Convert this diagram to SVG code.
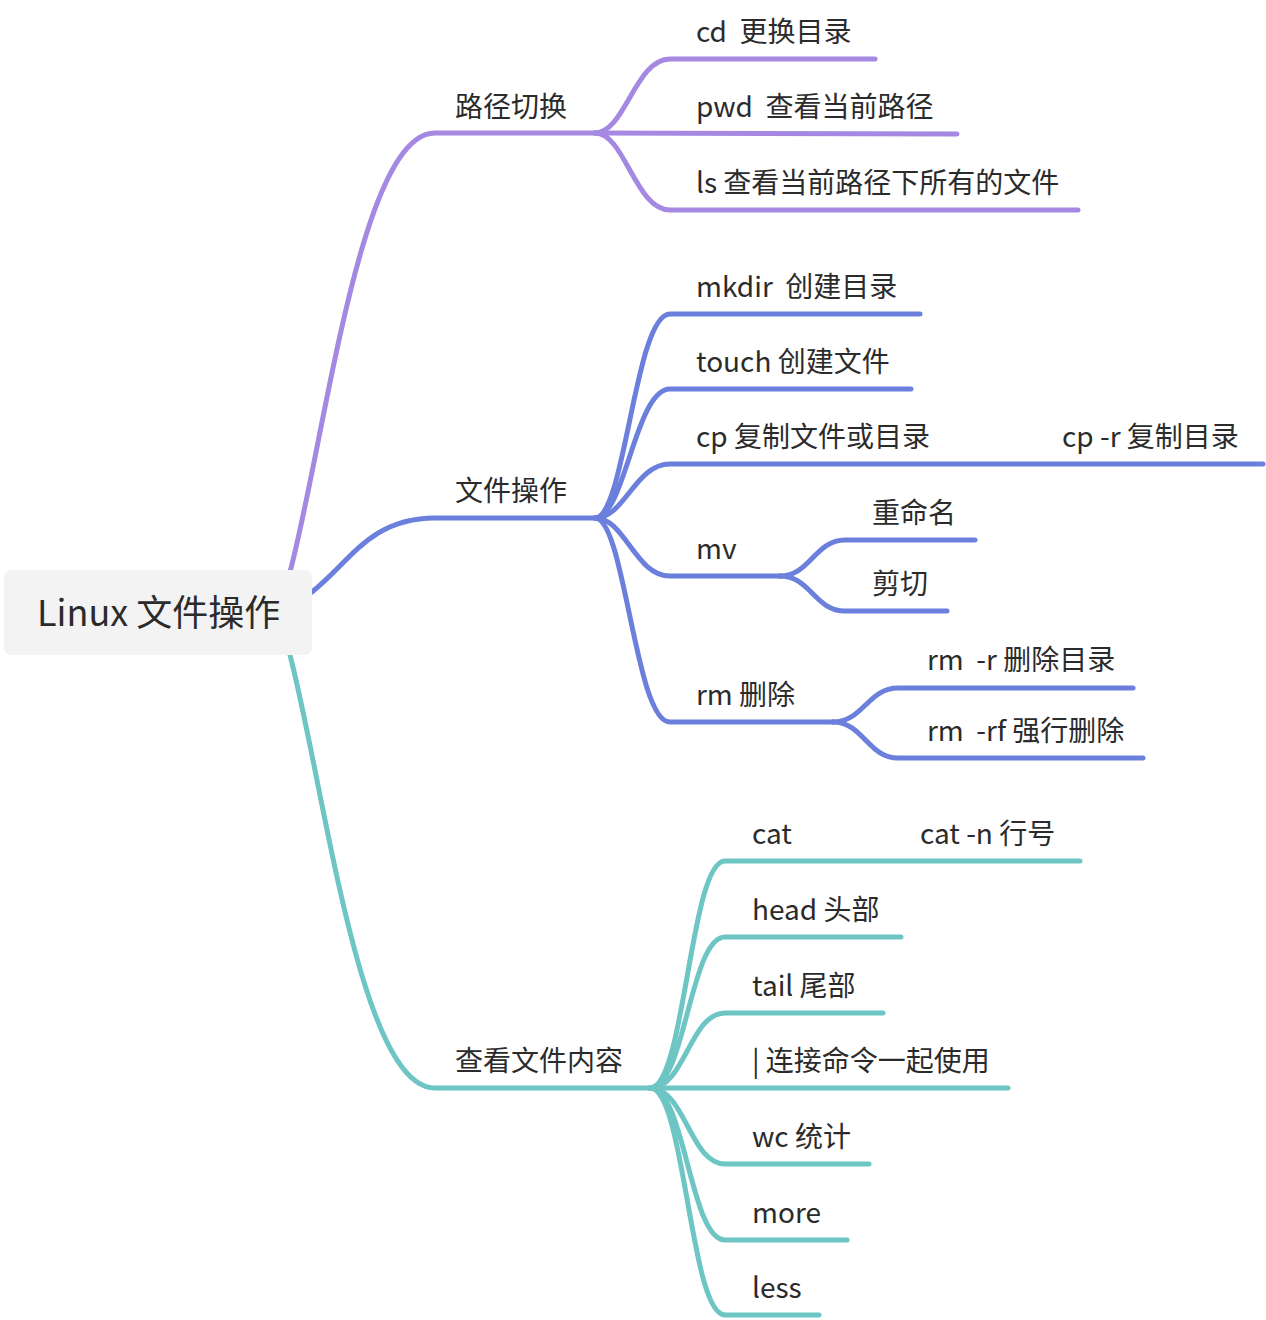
<svg xmlns="http://www.w3.org/2000/svg" width="1266" height="1320" viewBox="0 0 1266 1320">
<style>
text{font-family:"Noto Sans CJK SC","Noto Sans",sans-serif;fill:#2b2b2b;white-space:pre}
.t{font-size:28px}
.root{font-size:36px}
path{fill:none;stroke-width:5;stroke-linecap:round}
.p{stroke:#a588e2}
.b{stroke:#6b7fdc}
.g{stroke:#6dc5c4}
</style>
<rect width="1266" height="1320" fill="#ffffff"/>
<g id="connectors">
<path class="p" d="M290 572 C325 440 360 133 435 133 L595 133"/>
<path class="p" d="M595 133 C625 133 635 59 670 59 L875 59"/>
<path class="p" d="M595 133 L957 134"/>
<path class="p" d="M595 133 C625 133 635 210 670 210 L1078 210"/>
<path class="b" d="M312 592 C350 562 370 518 435 518 L595 518"/>
<path class="b" d="M595 518 C625 518 635 314 670 314 L920 314"/>
<path class="b" d="M595 518 C625 518 635 389 670 389 L911 389"/>
<path class="b" d="M595 518 C625 518 635 464 670 464 L1263 464"/>
<path class="b" d="M595 518 C625 518 635 576 670 576 L780 576"/>
<path class="b" d="M780 576 C810 576 815 540 845 540 L975 540"/>
<path class="b" d="M780 576 C810 576 815 611 845 611 L947 611"/>
<path class="b" d="M595 518 C625 518 635 722 670 722 L833 722"/>
<path class="b" d="M833 722 C863 722 868 688 898 688 L1133 688"/>
<path class="b" d="M833 722 C863 722 868 758 898 758 L1143 758"/>
<path class="g" d="M290 655 C325 790 360 1088 435 1088 L650 1088"/>
<path class="g" d="M650 1088 C685 1088 690 861 725 861 L1080 861"/>
<path class="g" d="M650 1088 C685 1088 690 937 725 937 L901 937"/>
<path class="g" d="M650 1088 C685 1088 690 1013 725 1013 L883 1013"/>
<path class="g" d="M650 1088 L1008 1088"/>
<path class="g" d="M650 1088 C685 1088 690 1164 725 1164 L869 1164"/>
<path class="g" d="M650 1088 C685 1088 690 1240 725 1240 L847 1240"/>
<path class="g" d="M650 1088 C685 1088 690 1315 725 1315 L819 1315"/>
</g>
<g id="root">
<rect x="4" y="570" width="308" height="85" rx="7" fill="#f3f3f3"/>
<text class="root" x="37" y="626">Linux 文件操作</text>
</g>
<g id="n-path"><text class="t" x="455" y="117">路径切换</text></g>
<g id="n-cd"><text class="t" x="696" y="42">cd  更换目录</text></g>
<g id="n-pwd"><text class="t" x="696" y="117">pwd  查看当前路径</text></g>
<g id="n-ls"><text class="t" x="696" y="193">ls 查看当前路径下所有的文件</text></g>
<g id="n-file"><text class="t" x="455" y="501">文件操作</text></g>
<g id="n-mkdir"><text class="t" x="696" y="297">mkdir  创建目录</text></g>
<g id="n-touch"><text class="t" x="696" y="372">touch 创建文件</text></g>
<g id="n-cp"><text class="t" x="696" y="447">cp 复制文件或目录</text></g>
<g id="n-cpr"><text class="t" x="1062" y="447">cp -r 复制目录</text></g>
<g id="n-mv"><text class="t" x="696" y="559">mv</text></g>
<g id="n-rename"><text class="t" x="872" y="523">重命名</text></g>
<g id="n-cut"><text class="t" x="872" y="594">剪切</text></g>
<g id="n-rm"><text class="t" x="696" y="705">rm 删除</text></g>
<g id="n-rmr"><text class="t" x="927" y="670">rm  -r 删除目录</text></g>
<g id="n-rmrf"><text class="t" x="927" y="741">rm  -rf 强行删除</text></g>
<g id="n-view"><text class="t" x="455" y="1071">查看文件内容</text></g>
<g id="n-cat"><text class="t" x="752" y="844">cat</text></g>
<g id="n-catn"><text class="t" x="920" y="844">cat -n 行号</text></g>
<g id="n-head"><text class="t" x="752" y="920">head 头部</text></g>
<g id="n-tail"><text class="t" x="752" y="996">tail 尾部</text></g>
<g id="n-pipe"><text class="t" x="752" y="1071">| 连接命令一起使用</text></g>
<g id="n-wc"><text class="t" x="752" y="1147">wc 统计</text></g>
<g id="n-more"><text class="t" x="752" y="1223">more</text></g>
<g id="n-less"><text class="t" x="752" y="1298">less</text></g>
</svg>
